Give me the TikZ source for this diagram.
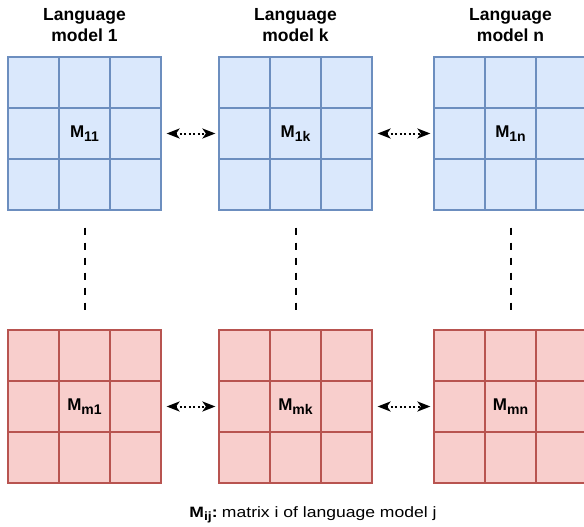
\documentclass[tikz,border=0pt]{standalone}
\usepackage{fontspec}
\setmainfont{Liberation Sans}
\usetikzlibrary{positioning,arrows.meta}
\definecolor{bluefill}{HTML}{DAE8FC}
\definecolor{blueline}{HTML}{6C8EBF}
\definecolor{redfill}{HTML}{F8CECC}
\definecolor{redline}{HTML}{B85450}
\newcommand{\msub}[1]{{\fontsize{17}{17}\selectfont\bfseries M}\raisebox{-4pt}{\fontsize{14}{14}\selectfont\bfseries #1}}

\begin{document}
\begin{tikzpicture}[x=1pt, y=-1pt, thick]
  \tikzstyle{bluecell}=[draw=blueline, fill=bluefill, line width=1.2pt, minimum size=51pt, inner sep=0pt]
  \tikzstyle{redcell}=[draw=redline, fill=redfill, line width=1.2pt, minimum size=51pt, inner sep=0pt]
  \tikzstyle{heading}=[align=center, inner sep=0pt, font=\fontsize{17.5}{21}\selectfont\bfseries]
  \tikzstyle{link}=[line width=2pt, dash pattern=on 2pt off 2.5pt, {Stealth[length=13pt,width=10pt,inset=3.5pt]}-{Stealth[length=13pt,width=10pt,inset=3.5pt]}, shorten <=5pt, shorten >=3pt]
  \tikzstyle{gap}=[line width=2pt, dash pattern=on 7pt off 8pt, shorten <=17pt, shorten >=19pt]
  \useasboundingbox (0,0) rectangle (584,527);
  % Place the matrices, cell by cell
  \foreach \x/\y/\name/\sub/\cell in {84.5/133.5/m11/11/bluecell, 295.5/133.5/m1k/1k/bluecell, 510.5/133.5/m1n/1n/bluecell,
                                        84.5/406.5/mm1/m1/redcell, 295.5/406.5/mmk/mk/redcell, 510.5/406.5/mmn/mn/redcell}
  {
    \node[\cell, minimum size=153pt] (\name) at (\x,\y) {};
    \foreach \dx in {-51,0,51}
      \foreach \dy in {-51,0,51}
        \node[\cell, xshift=\dx pt, yshift=\dy pt] at (\name) {};
    \node at (\name) {\msub{\sub}};
  }
  % Model headings
  \node[heading, above=14pt of m11] (t1) {Language\\model 1};
  \node[heading, above=14pt of m1k] (tk) {Language\\model k};
  \node[heading, above=14pt of m1n] (tn) {Language\\model n};
  % Links between models
  \foreach \a/\b in {m11/m1k, m1k/m1n, mm1/mmk, mmk/mmn}
    \draw[link] (\a) -- (\b);
  \foreach \a/\b in {m11/mm1, m1k/mmk, m1n/mmn}
    \draw[gap] (\a) -- (\b);
  % Key
  \node[anchor=base, inner sep=0pt] (key) at (313,517)
    {\scalebox{1.17}[1]{{\fontsize{15}{15}\selectfont\bfseries M\raisebox{-3.5pt}{\fontsize{12}{12}\selectfont ij}:} {\fontsize{15}{15}\selectfont matrix i of language model j}}};
\end{tikzpicture}
\end{document}
